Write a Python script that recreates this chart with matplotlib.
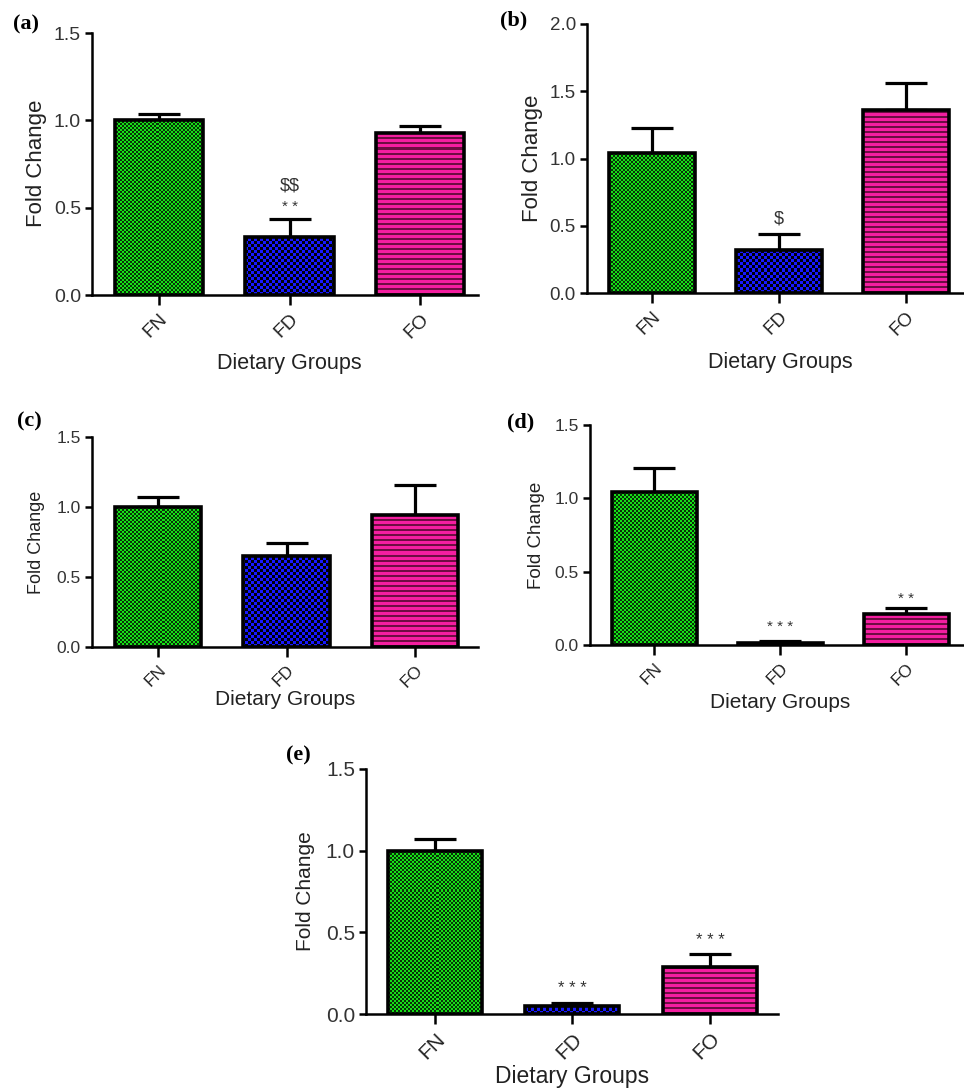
import matplotlib
matplotlib.use("Agg")
import matplotlib.pyplot as plt
import numpy as np
from matplotlib.colors import to_rgb

plt.rcParams['font.family'] = ['Liberation Sans', 'DejaVu Sans']

groups = ["FN", "FD", "FO"]

# mean and upper SEM per panel
vals_a = [1.00, 0.33, 0.93]
err_a = [0.035, 0.105, 0.04]
vals_b = [1.04, 0.32, 1.36]
err_b = [0.185, 0.115, 0.20]
vals_c = [1.00, 0.65, 0.945]
err_c = [0.075, 0.095, 0.215]
vals_d = [1.045, 0.015, 0.21]
err_d = [0.165, 0.01, 0.04]
vals_e = [1.00, 0.05, 0.285]
err_e = [0.07, 0.02, 0.08]

ylims = {"a": 1.5, "b": 2.0, "c": 1.5, "d": 1.5, "e": 1.5}
yticks = {"a": [0, 0.5, 1.0, 1.5], "b": [0, 0.5, 1.0, 1.5, 2.0],
          "c": [0, 0.5, 1.0, 1.5], "d": [0, 0.5, 1.0, 1.5], "e": [0, 0.5, 1.0, 1.5]}

# significance marks: (group index, text, offset in points above error bar, size)
marks_a = [(1, r"\$\$", 24, 13), (1, "* *", 9, 11)]
marks_b = [(1, r"\$", 11, 13)]
marks_c = []
marks_d = [(1, "* * *", 10, 11), (2, "* *", 7, 11)]
marks_e = [(1, "* * *", 10, 12), (2, "* * *", 10, 12)]

W, H = 964, 1088
fig = plt.figure(figsize=(W / 100, H / 100), dpi=100)


def texture(kind, px_w, px_h):
    # small pixel pattern like GraphPad fills
    if kind == "fine":
        cell, c1, c2 = 2, "#16e016", "#083008"
        ny, nx = px_h // cell + 2, px_w // cell + 2
        m = (np.add.outer(np.arange(ny), np.arange(nx)) % 2).astype(float)
    elif kind == "coarse":
        cell, c1, c2 = 3, "#1818ff", "#000008"
        ny, nx = px_h // cell + 2, px_w // cell + 2
        m = (np.add.outer(np.arange(ny), np.arange(nx)) % 2).astype(float)
    else:
        cell, c1, c2 = 1, "#f41ea0", "#6e0c42"
        ny, nx = px_h + 2, px_w + 2
        rows = (np.arange(ny) % 5 < 2).astype(float)
        m = np.repeat(rows[:, None], nx, axis=1)
    a, b = np.array(to_rgb(c1)), np.array(to_rgb(c2))
    img = a[None, None, :] * (1 - m[..., None]) + b[None, None, :] * m[..., None]
    return img, cell, nx, ny


kinds = ["fine", "coarse", "stripe"]

panels = [
    # key, axes box in pixels (left, top, right, bottom), vals, err, marks, xlim, bar width,
    # (tick fs, ylabel fs, xlabel fs), xlabel coords, ylabel coords
    ("a", (92, 33, 478, 295), vals_a, err_a, marks_a, (-0.513, 2.444), 0.675, (14, 16, 15.5), (0.51, -0.26), (-0.145, 0.504)),
    ("b", (587, 24, 964, 293), vals_b, err_b, marks_b, (-0.512, 2.457), 0.677, (13.5, 16, 15.5), (0.512, -0.259), (-0.145, 0.502)),
    ("c", (92, 437, 478, 647), vals_c, err_c, marks_c, (-0.514, 2.49), 0.67, (12.5, 13, 15), (0.50, -0.251), (-0.145, 0.50)),
    ("d", (590, 425, 964, 645), vals_d, err_d, marks_d, (-0.512, 2.46), 0.675, (12.5, 13.5, 15), (0.508, -0.26), (-0.144, 0.50)),
    ("e", (366, 769, 778, 1014), vals_e, err_e, marks_e, (-0.502, 2.495), 0.684, (15, 15, 16.5), (0.50, -0.257), (-0.148, 0.503)),
]

letter_pos = {"a": (13, 24), "b": (500, 20), "c": (17, 421), "d": (507, 422), "e": (286, 755)}

for key, box, vals, err, marks, xl, w, fs, xlc, ylc in panels:
    tick_fs, ylab_fs, xlab_fs = fs
    l, t, r, btm = box
    px_w, px_h = r - l, btm - t
    ax = fig.add_axes([l / W, 1 - btm / H, px_w / W, px_h / H])
    x = list(range(len(groups)))
    ymax = ylims[key]
    bars = ax.bar(x, vals, width=w, color="white", linewidth=0, zorder=2)
    for i, p in enumerate(bars):
        img, cell, nx, ny = texture(kinds[i], px_w, px_h)
        x1 = xl[0] + nx * cell * (xl[1] - xl[0]) / px_w
        y1 = ny * cell * ymax / px_h
        im = ax.imshow(img, extent=(xl[0], x1, 0, y1), origin="lower",
                       interpolation="nearest", aspect="auto", zorder=2.5)
        im.set_clip_path(p)
    ax.bar(x, vals, width=w, facecolor="none", edgecolor="black", linewidth=2.6, zorder=3)
    ax.errorbar(x, vals, yerr=[[0] * 3, err], fmt="none", ecolor="black",
                elinewidth=2.3, capsize=15, capthick=2.3, zorder=1)
    for gi, txt, off, msz in marks:
        ax.annotate(txt, xy=(gi, vals[gi] + err[gi]), xytext=(0, off),
                    textcoords="offset points", ha="center", va="center",
                    fontsize=msz, color="#333333")
    ax.set_xlim(*xl)
    ax.set_ylim(0, ymax)
    ax.set_yticks(yticks[key])
    ax.set_yticklabels(["%.1f" % v for v in yticks[key]], fontsize=tick_fs, color="#333333")
    ax.set_xticks(x)
    ax.set_xticklabels(groups, rotation=45, ha="right", rotation_mode="anchor",
                       fontsize=tick_fs, color="#222222")
    for s in ["top", "right"]:
        ax.spines[s].set_visible(False)
    for s in ["left", "bottom"]:
        ax.spines[s].set_linewidth(1.8)
    ax.tick_params(axis="y", length=5, width=1.8, pad=3)
    ax.tick_params(axis="x", length=7, width=1.8, pad=4)
    ax.set_ylabel("Fold Change", fontsize=ylab_fs, color="#222222")
    ax.set_xlabel("Dietary Groups", fontsize=xlab_fs, color="#222222")
    ax.xaxis.set_label_coords(*xlc)
    ax.xaxis.label.set_va("center")
    ax.yaxis.set_label_coords(*ylc)
    ax.yaxis.label.set_va("center")
    lx, ly = letter_pos[key]
    fig.text(lx / W, 1 - ly / H, "(%s)" % key, fontsize=16, fontweight="bold",
             family="Liberation Serif", ha="left", va="center")

fig.savefig("out.png", dpi=100)
